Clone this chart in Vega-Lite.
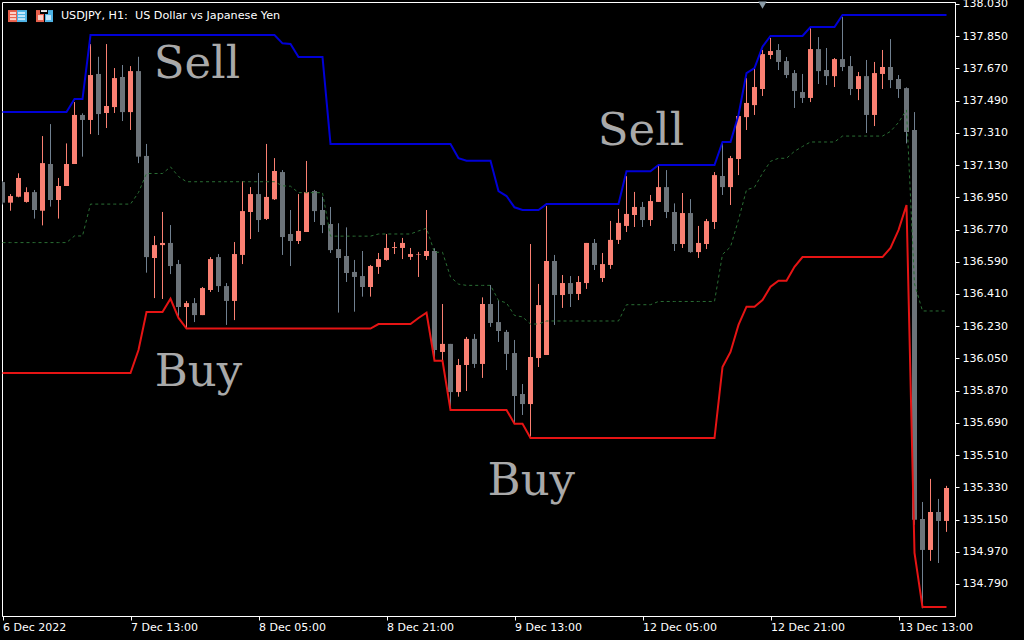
{"$schema":"https://vega.github.io/schema/vega-lite/v6.json","width":953,"height":614,"autosize":"none","padding":{"left":2,"top":2,"right":69,"bottom":24},"background":"#000000","config":{"view":{"stroke":"#ffffff","strokeWidth":1,"fill":"#000000"},"axis":{"labelOverlap":false}},
"datasets":{"bars":[
{"i":0,"o":137.035,"h":137.04,"l":136.91,"c":136.92,"u":137.426,"d":135.968,"m":136.697},
{"i":1,"o":136.92,"h":136.968,"l":136.875,"c":136.957,"u":137.426,"d":135.968,"m":136.697},
{"i":2,"o":136.953,"h":137.084,"l":136.95,"c":137.058,"u":137.426,"d":135.968,"m":136.697},
{"i":3,"o":136.924,"h":137.006,"l":136.92,"c":136.979,"u":137.426,"d":135.968,"m":136.697},
{"i":4,"o":136.979,"h":136.991,"l":136.831,"c":136.879,"u":137.426,"d":135.968,"m":136.697},
{"i":5,"o":136.875,"h":137.292,"l":136.793,"c":137.141,"u":137.426,"d":135.968,"m":136.697},
{"i":6,"o":137.136,"h":137.359,"l":136.898,"c":136.935,"u":137.426,"d":135.968,"m":136.697},
{"i":7,"o":136.935,"h":137.058,"l":136.831,"c":137.013,"u":137.426,"d":135.968,"m":136.697},
{"i":8,"o":137.013,"h":137.251,"l":137.013,"c":137.136,"u":137.426,"d":135.968,"m":136.697},
{"i":9,"o":137.136,"h":137.482,"l":137.136,"c":137.41,"u":137.499,"d":135.968,"m":136.734},
{"i":10,"o":137.41,"h":137.419,"l":137.177,"c":137.382,"u":137.499,"d":135.968,"m":136.734},
{"i":11,"o":137.382,"h":137.806,"l":137.303,"c":137.633,"u":137.856,"d":135.968,"m":136.912},
{"i":12,"o":137.639,"h":137.735,"l":137.298,"c":137.415,"u":137.856,"d":135.968,"m":136.912},
{"i":13,"o":137.421,"h":137.806,"l":137.337,"c":137.46,"u":137.856,"d":135.968,"m":136.912},
{"i":14,"o":137.454,"h":137.672,"l":137.421,"c":137.616,"u":137.856,"d":135.968,"m":136.912},
{"i":15,"o":137.622,"h":137.689,"l":137.376,"c":137.426,"u":137.856,"d":135.968,"m":136.912},
{"i":16,"o":137.426,"h":137.683,"l":137.326,"c":137.655,"u":137.856,"d":135.968,"m":136.912},
{"i":17,"o":137.655,"h":137.735,"l":137.141,"c":137.177,"u":137.856,"d":136.097,"m":136.977},
{"i":18,"o":137.181,"h":137.248,"l":136.529,"c":136.616,"u":137.856,"d":136.309,"m":137.083},
{"i":19,"o":136.611,"h":136.734,"l":136.387,"c":136.683,"u":137.856,"d":136.309,"m":137.083},
{"i":20,"o":136.683,"h":136.868,"l":136.382,"c":136.695,"u":137.856,"d":136.309,"m":137.083},
{"i":21,"o":136.695,"h":136.795,"l":136.521,"c":136.566,"u":137.856,"d":136.383,"m":137.12},
{"i":22,"o":136.577,"h":136.6,"l":136.283,"c":136.337,"u":137.856,"d":136.276,"m":137.066},
{"i":23,"o":136.337,"h":136.371,"l":136.218,"c":136.359,"u":137.856,"d":136.217,"m":137.037},
{"i":24,"o":136.359,"h":136.387,"l":136.253,"c":136.292,"u":137.856,"d":136.217,"m":137.037},
{"i":25,"o":136.292,"h":136.449,"l":136.292,"c":136.443,"u":137.856,"d":136.217,"m":137.037},
{"i":26,"o":136.432,"h":136.616,"l":136.421,"c":136.605,"u":137.856,"d":136.217,"m":137.037},
{"i":27,"o":136.616,"h":136.633,"l":136.421,"c":136.454,"u":137.856,"d":136.217,"m":137.037},
{"i":28,"o":136.454,"h":136.471,"l":136.237,"c":136.371,"u":137.856,"d":136.217,"m":137.037},
{"i":29,"o":136.371,"h":136.7,"l":136.264,"c":136.633,"u":137.856,"d":136.217,"m":137.037},
{"i":30,"o":136.628,"h":137.041,"l":136.577,"c":136.873,"u":137.856,"d":136.217,"m":137.037},
{"i":31,"o":136.868,"h":137.007,"l":136.717,"c":136.968,"u":137.856,"d":136.217,"m":137.037},
{"i":32,"o":136.968,"h":137.086,"l":136.756,"c":136.823,"u":137.856,"d":136.217,"m":137.037},
{"i":33,"o":136.829,"h":137.248,"l":136.823,"c":136.952,"u":137.856,"d":136.217,"m":137.037},
{"i":34,"o":136.939,"h":137.169,"l":136.935,"c":137.097,"u":137.856,"d":136.217,"m":137.037},
{"i":35,"o":137.091,"h":137.102,"l":136.628,"c":136.728,"u":137.81,"d":136.217,"m":137.014},
{"i":36,"o":136.745,"h":136.879,"l":136.566,"c":136.706,"u":137.806,"d":136.217,"m":137.012},
{"i":37,"o":136.706,"h":136.968,"l":136.689,"c":136.762,"u":137.734,"d":136.217,"m":136.976},
{"i":38,"o":136.756,"h":137.153,"l":136.756,"c":136.979,"u":137.734,"d":136.217,"m":136.976},
{"i":39,"o":136.985,"h":136.991,"l":136.812,"c":136.873,"u":137.734,"d":136.217,"m":136.976},
{"i":40,"o":136.879,"h":136.953,"l":136.75,"c":136.795,"u":137.734,"d":136.217,"m":136.976},
{"i":41,"o":136.801,"h":136.896,"l":136.639,"c":136.655,"u":137.248,"d":136.217,"m":136.733},
{"i":42,"o":136.661,"h":136.805,"l":136.306,"c":136.611,"u":137.248,"d":136.217,"m":136.733},
{"i":43,"o":136.622,"h":136.782,"l":136.477,"c":136.527,"u":137.248,"d":136.217,"m":136.733},
{"i":44,"o":136.533,"h":136.6,"l":136.311,"c":136.505,"u":137.248,"d":136.217,"m":136.733},
{"i":45,"o":136.51,"h":136.65,"l":136.395,"c":136.449,"u":137.248,"d":136.217,"m":136.733},
{"i":46,"o":136.449,"h":136.572,"l":136.395,"c":136.566,"u":137.248,"d":136.217,"m":136.733},
{"i":47,"o":136.561,"h":136.639,"l":136.522,"c":136.605,"u":137.248,"d":136.242,"m":136.745},
{"i":48,"o":136.6,"h":136.745,"l":136.596,"c":136.667,"u":137.248,"d":136.242,"m":136.745},
{"i":49,"o":136.667,"h":136.7,"l":136.633,"c":136.672,"u":137.248,"d":136.242,"m":136.745},
{"i":50,"o":136.667,"h":136.723,"l":136.605,"c":136.695,"u":137.248,"d":136.242,"m":136.745},
{"i":51,"o":136.617,"h":136.667,"l":136.6,"c":136.633,"u":137.248,"d":136.242,"m":136.745},
{"i":52,"o":136.63,"h":136.645,"l":136.505,"c":136.633,"u":137.248,"d":136.276,"m":136.762},
{"i":53,"o":136.622,"h":136.879,"l":136.6,"c":136.65,"u":137.248,"d":136.305,"m":136.777},
{"i":54,"o":136.65,"h":136.665,"l":136.041,"c":136.097,"u":137.248,"d":136.037,"m":136.643},
{"i":55,"o":136.086,"h":136.354,"l":136.041,"c":136.131,"u":137.248,"d":136.037,"m":136.643},
{"i":56,"o":136.131,"h":136.131,"l":135.771,"c":135.862,"u":137.248,"d":135.762,"m":136.505},
{"i":57,"o":135.862,"h":136.047,"l":135.836,"c":136.013,"u":137.168,"d":135.762,"m":136.465},
{"i":58,"o":136.013,"h":136.17,"l":135.868,"c":136.159,"u":137.154,"d":135.762,"m":136.458},
{"i":59,"o":136.159,"h":136.186,"l":135.997,"c":136.019,"u":137.154,"d":135.762,"m":136.458},
{"i":60,"o":136.019,"h":136.391,"l":135.941,"c":136.354,"u":137.154,"d":135.762,"m":136.458},
{"i":61,"o":136.354,"h":136.46,"l":136.226,"c":136.248,"u":137.154,"d":135.762,"m":136.458},
{"i":62,"o":136.253,"h":136.376,"l":136.142,"c":136.203,"u":136.985,"d":135.762,"m":136.374},
{"i":63,"o":136.198,"h":136.209,"l":135.985,"c":136.075,"u":136.957,"d":135.762,"m":136.36},
{"i":64,"o":136.08,"h":136.153,"l":135.687,"c":135.84,"u":136.894,"d":135.685,"m":136.29},
{"i":65,"o":135.851,"h":135.907,"l":135.734,"c":135.795,"u":136.879,"d":135.685,"m":136.282},
{"i":66,"o":135.795,"h":136.689,"l":135.613,"c":136.058,"u":136.879,"d":135.605,"m":136.242},
{"i":67,"o":136.052,"h":136.466,"l":136.002,"c":136.348,"u":136.879,"d":135.605,"m":136.242},
{"i":68,"o":136.069,"h":136.901,"l":136.069,"c":136.594,"u":136.912,"d":135.605,"m":136.259},
{"i":69,"o":136.594,"h":136.628,"l":136.237,"c":136.404,"u":136.912,"d":135.605,"m":136.259},
{"i":70,"o":136.404,"h":136.516,"l":136.332,"c":136.471,"u":136.912,"d":135.605,"m":136.259},
{"i":71,"o":136.471,"h":136.51,"l":136.337,"c":136.41,"u":136.912,"d":135.605,"m":136.259},
{"i":72,"o":136.41,"h":136.51,"l":136.376,"c":136.477,"u":136.912,"d":135.605,"m":136.259},
{"i":73,"o":136.471,"h":136.695,"l":136.438,"c":136.695,"u":136.912,"d":135.605,"m":136.259},
{"i":74,"o":136.695,"h":136.717,"l":136.544,"c":136.572,"u":136.912,"d":135.605,"m":136.259},
{"i":75,"o":136.499,"h":136.639,"l":136.477,"c":136.577,"u":136.912,"d":135.605,"m":136.259},
{"i":76,"o":136.572,"h":136.818,"l":136.55,"c":136.712,"u":136.912,"d":135.605,"m":136.259},
{"i":77,"o":136.712,"h":136.885,"l":136.689,"c":136.807,"u":136.912,"d":135.605,"m":136.259},
{"i":78,"o":136.79,"h":137.069,"l":136.756,"c":136.857,"u":137.095,"d":135.605,"m":136.35},
{"i":79,"o":136.851,"h":136.98,"l":136.784,"c":136.896,"u":137.095,"d":135.605,"m":136.35},
{"i":80,"o":136.896,"h":136.924,"l":136.784,"c":136.823,"u":137.095,"d":135.605,"m":136.35},
{"i":81,"o":136.823,"h":136.963,"l":136.79,"c":136.929,"u":137.095,"d":135.605,"m":136.35},
{"i":82,"o":136.924,"h":137.125,"l":136.924,"c":137.007,"u":137.13,"d":135.605,"m":136.368},
{"i":83,"o":137.007,"h":137.102,"l":136.834,"c":136.868,"u":137.13,"d":135.605,"m":136.368},
{"i":84,"o":136.868,"h":136.916,"l":136.65,"c":136.689,"u":137.13,"d":135.605,"m":136.368},
{"i":85,"o":136.689,"h":136.974,"l":136.667,"c":136.862,"u":137.13,"d":135.605,"m":136.368},
{"i":86,"o":136.862,"h":136.94,"l":136.64,"c":136.644,"u":137.13,"d":135.605,"m":136.368},
{"i":87,"o":136.644,"h":136.79,"l":136.611,"c":136.695,"u":137.13,"d":135.605,"m":136.368},
{"i":88,"o":136.689,"h":136.829,"l":136.661,"c":136.817,"u":137.13,"d":135.605,"m":136.368},
{"i":89,"o":136.812,"h":137.091,"l":136.773,"c":137.074,"u":137.13,"d":135.605,"m":136.368},
{"i":90,"o":137.069,"h":137.251,"l":136.963,"c":137.007,"u":137.259,"d":136.002,"m":136.631},
{"i":91,"o":137.007,"h":137.181,"l":136.907,"c":137.169,"u":137.259,"d":136.086,"m":136.673},
{"i":92,"o":137.164,"h":137.41,"l":137.074,"c":137.404,"u":137.41,"d":136.237,"m":136.824},
{"i":93,"o":137.398,"h":137.616,"l":137.326,"c":137.477,"u":137.644,"d":136.339,"m":136.992},
{"i":94,"o":137.465,"h":137.672,"l":137.41,"c":137.566,"u":137.672,"d":136.339,"m":137.006},
{"i":95,"o":137.555,"h":137.773,"l":137.516,"c":137.75,"u":137.791,"d":136.376,"m":137.084},
{"i":96,"o":137.745,"h":137.84,"l":137.722,"c":137.767,"u":137.851,"d":136.45,"m":137.151},
{"i":97,"o":137.773,"h":137.806,"l":137.661,"c":137.706,"u":137.851,"d":136.484,"m":137.168},
{"i":98,"o":137.711,"h":137.734,"l":137.616,"c":137.633,"u":137.851,"d":136.484,"m":137.168},
{"i":99,"o":137.644,"h":137.661,"l":137.449,"c":137.544,"u":137.851,"d":136.562,"m":137.207},
{"i":100,"o":137.538,"h":137.639,"l":137.477,"c":137.505,"u":137.851,"d":136.616,"m":137.234},
{"i":101,"o":137.505,"h":137.896,"l":137.482,"c":137.778,"u":137.901,"d":136.616,"m":137.259},
{"i":102,"o":137.778,"h":137.845,"l":137.583,"c":137.655,"u":137.901,"d":136.616,"m":137.259},
{"i":103,"o":137.661,"h":137.784,"l":137.577,"c":137.627,"u":137.901,"d":136.616,"m":137.259},
{"i":104,"o":137.627,"h":137.728,"l":137.566,"c":137.722,"u":137.901,"d":136.616,"m":137.259},
{"i":105,"o":137.722,"h":137.957,"l":137.655,"c":137.678,"u":137.968,"d":136.616,"m":137.292},
{"i":106,"o":137.683,"h":137.739,"l":137.521,"c":137.555,"u":137.968,"d":136.616,"m":137.292},
{"i":107,"o":137.555,"h":137.65,"l":137.493,"c":137.627,"u":137.968,"d":136.616,"m":137.292},
{"i":108,"o":137.627,"h":137.717,"l":137.309,"c":137.41,"u":137.968,"d":136.616,"m":137.292},
{"i":109,"o":137.41,"h":137.706,"l":137.348,"c":137.644,"u":137.968,"d":136.616,"m":137.292},
{"i":110,"o":137.639,"h":137.773,"l":137.555,"c":137.678,"u":137.968,"d":136.616,"m":137.292},
{"i":111,"o":137.678,"h":137.834,"l":137.56,"c":137.605,"u":137.968,"d":136.667,"m":137.318},
{"i":112,"o":137.611,"h":137.633,"l":137.505,"c":137.555,"u":137.968,"d":136.767,"m":137.368},
{"i":113,"o":137.56,"h":137.564,"l":137.251,"c":137.315,"u":137.968,"d":136.907,"m":137.438},
{"i":114,"o":137.326,"h":137.426,"l":135.12,"c":135.148,"u":137.968,"d":134.963,"m":136.466},
{"i":115,"o":135.153,"h":135.248,"l":134.654,"c":134.98,"u":137.968,"d":134.661,"m":136.315},
{"i":116,"o":134.98,"h":135.377,"l":134.919,"c":135.192,"u":137.968,"d":134.661,"m":136.315},
{"i":117,"o":135.192,"h":135.265,"l":134.907,"c":135.142,"u":137.968,"d":134.661,"m":136.315},
{"i":118,"o":135.142,"h":135.338,"l":135.081,"c":135.326,"u":137.968,"d":134.661,"m":136.315}
],
"notes":[{"i":24.3,"p":137.695,"t":"Sell"},{"i":79.8,"p":137.32,"t":"Sell"},{"i":24.5,"p":135.974,"t":"Buy"},{"i":66.1,"p":135.365,"t":"Buy"}],
"header":[{"i":7.3,"p":137.963,"t":"USDJPY, H1:\u00a0 US Dollar vs Japanese Yen"}],
"marker":[{"i":95,"p":138.024}],
"icons":[
{"a":0.6875,"b":1.8125,"t":137.996,"e":137.929,"k":"red"},
{"a":1.8125,"b":3.0625,"t":137.996,"e":137.929,"k":"blue"},
{"a":0.9375,"b":1.6875,"t":137.985,"e":137.974,"k":"pink"},
{"a":0.9375,"b":1.6875,"t":137.968,"e":137.957,"k":"pink"},
{"a":0.9375,"b":1.6875,"t":137.951,"e":137.94,"k":"pink"},
{"a":1.9375,"b":2.8125,"t":137.985,"e":137.974,"k":"sky"},
{"a":1.9375,"b":2.8125,"t":137.968,"e":137.957,"k":"sky"},
{"a":1.9375,"b":2.8125,"t":137.951,"e":137.94,"k":"sky"},
{"a":4.1875,"b":5.1875,"t":137.996,"e":137.929,"k":"red"},
{"a":5.3125,"b":6.3125,"t":137.996,"e":137.929,"k":"blue"},
{"a":4.4375,"b":5.0625,"t":137.968,"e":137.94,"k":"pink"},
{"a":5.4375,"b":6.0625,"t":137.968,"e":137.94,"k":"sky"},
{"a":4.6875,"b":5.6875,"t":137.996,"e":137.974,"k":"dark"},
{"a":4.8125,"b":5.5625,"t":137.996,"e":137.985,"k":"white"}
]},
"data":{"name":"bars"},
"layer":[
{"mark":{"type":"rule","strokeWidth":1},"encoding":{"x":{"field":"i","type":"quantitative","scale":{"domain":[-0.0625,119.0625],"nice":false,"zero":false,"padding":0},"axis":{"values":[0,16,32,48,64,80,96,112],"tickCount":20,"labelExpr":"{'0':'6 Dec 2022','16':'7 Dec 13:00','32':'8 Dec 05:00','48':'8 Dec 21:00','64':'9 Dec 13:00','80':'12 Dec 05:00','96':'12 Dec 21:00','112':'13 Dec 13:00'}[datum.value]","title":null,"grid":false,"domainColor":"#ffffff","tickColor":"#ffffff","tickSize":4,"labelColor":"#ffffff","labelFont":"DejaVu Sans","labelFontSize":11,"labelAlign":"left","labelPadding":1,"labelFlush":false,"labelOverlap":false}},"y":{"field":"h","type":"quantitative","scale":{"domain":[134.611,138.041],"nice":false,"zero":false},"axis":{"orient":"right","values":[134.79,134.97,135.15,135.33,135.51,135.69,135.87,136.05,136.23,136.41,136.59,136.77,136.95,137.13,137.31,137.49,137.67,137.85,138.03],"tickCount":40,"format":".3f","title":null,"grid":false,"domainColor":"#ffffff","tickColor":"#ffffff","tickSize":4,"labelColor":"#ffffff","labelFont":"DejaVu Sans","labelFontSize":11,"labelPadding":3,"labelOverlap":false,"labelFlush":false}},"y2":{"field":"l"},"color":{"condition":{"test":"datum.c>=datum.o","value":"#fa8072"},"value":"#708090"}}},
{"mark":{"type":"bar","size":5,"clip":true},"encoding":{"x":{"field":"i","type":"quantitative"},"y":{"field":"o","type":"quantitative"},"y2":{"field":"c"},"color":{"condition":{"test":"datum.c>=datum.o","value":"#fa8072"},"value":"#6c7379"}}},
{"mark":{"type":"line","stroke":"#0000d6","strokeWidth":2,"clip":true},"encoding":{"x":{"field":"i","type":"quantitative"},"y":{"field":"u","type":"quantitative"}}},
{"mark":{"type":"line","stroke":"#e61414","strokeWidth":2,"clip":true},"encoding":{"x":{"field":"i","type":"quantitative"},"y":{"field":"d","type":"quantitative"}}},
{"mark":{"type":"line","stroke":"#2a6e34","strokeWidth":1,"strokeDash":[3,3],"clip":true},"encoding":{"x":{"field":"i","type":"quantitative"},"y":{"field":"m","type":"quantitative"}}},
{"data":{"name":"notes"},"mark":{"type":"text","font":"DejaVu Serif","fontSize":45,"color":"#a9a9a9"},"encoding":{"x":{"field":"i","type":"quantitative"},"y":{"field":"p","type":"quantitative"},"text":{"field":"t"}}},
{"data":{"name":"header"},"mark":{"type":"text","font":"DejaVu Sans","fontSize":11.2,"color":"#ffffff","align":"left"},"encoding":{"x":{"field":"i","type":"quantitative"},"y":{"field":"p","type":"quantitative"},"text":{"field":"t"}}},
{"data":{"name":"icons"},"mark":{"type":"rect"},"encoding":{"x":{"field":"a","type":"quantitative"},"x2":{"field":"b"},"y":{"field":"t","type":"quantitative"},"y2":{"field":"e"},"color":{"field":"k","type":"nominal","legend":null,"scale":{"domain":["red","blue","pink","sky","dark","white"],"range":["#e8604c","#4fb4e6","#fbd0c8","#c4e6fa","#000000","#e8e8e8"]}}}},
{"data":{"name":"marker"},"mark":{"type":"point","shape":"triangle-down","size":70,"filled":true,"color":"#8a9aa5","opacity":1},"encoding":{"x":{"field":"i","type":"quantitative"},"y":{"field":"p","type":"quantitative"}}}
]}
